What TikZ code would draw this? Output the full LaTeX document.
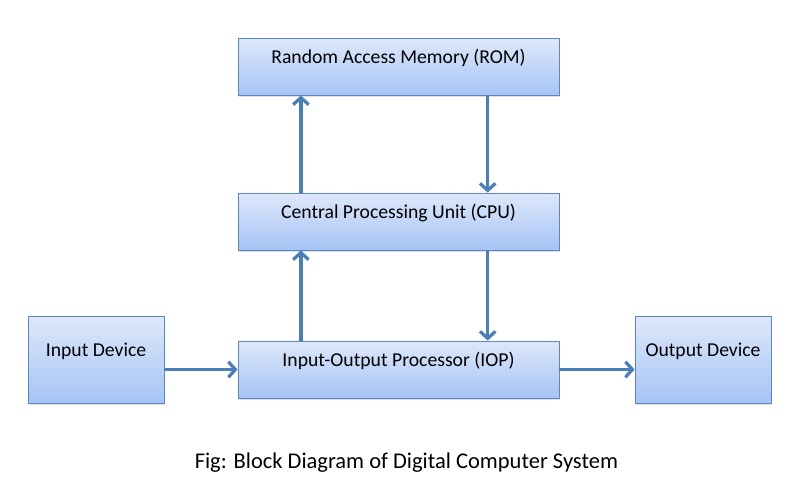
\documentclass[tikz,border=0pt]{standalone}
\usepackage{fontspec}
\setmainfont{Carlito}
\usepackage{tikz}
\usetikzlibrary{arrows.meta, shadows}
\definecolor{boxtop}{RGB}{222,232,250}
\definecolor{boxbot}{RGB}{165,196,245}
\definecolor{boxline}{RGB}{88,136,200}
\definecolor{arrline}{RGB}{74,126,187}
\tikzset{
    blk/.style={rectangle, draw=boxline, line width=0.6pt,
    	top color=boxtop, bottom color=boxbot,
    	drop shadow={shadow xshift=0.6pt, shadow yshift=-1.2pt, opacity=0.25},
    	font=\fontsize{14}{16}\selectfont, text height=10pt, text depth=14.5pt,
    	inner sep=0pt},
    wide/.style={blk, minimum width=8.025cm, minimum height=1.425cm},
    dev/.style={blk, minimum width=3.4cm, minimum height=2.175cm},
    arr/.style={draw=arrline, line width=2.3pt,
    	-{Straight Barb[length=5pt, width=11pt]}}
}

\begin{document}
\begin{tikzpicture}
	\useasboundingbox (0,0) rectangle (19.9,-12.575);
	\node (rom) [wide] at (9.9625cm, -1.6625cm) {Random Access Memory (ROM)};
	\node (cpu) [wide] at (9.9625cm, -5.5375cm) {Central Processing Unit (CPU)};
	\node (iop) [wide] at (9.9625cm, -9.2375cm) {Input-Output Processor (IOP)};
	\node (in) [dev] at (2.4cm, -8.9875cm) {Input Device};
	\node (out) [dev] at (17.575cm, -8.9875cm) {Output Device};
	\node (cap) [font=\fontsize{16}{19}\selectfont] at (10.16cm, -11.575cm)
		{Fig: Block Diagram of Digital Computer System};

	\draw[arr] ([xshift=-2.44cm]cpu.north) -- ([xshift=-2.44cm]rom.south);
	\draw[arr] ([xshift=2.23cm]rom.south) -- ([xshift=2.23cm]cpu.north);
	\draw[arr] ([xshift=-2.44cm]iop.north) -- ([xshift=-2.44cm]cpu.south);
	\draw[arr] ([xshift=2.23cm]cpu.south) -- ([xshift=2.23cm]iop.north);
	\draw[arr] (in.east |- iop.west) -- (iop.west);
	\draw[arr] (iop.east) -- (out.west |- iop.east);
\end{tikzpicture}
\end{document}
